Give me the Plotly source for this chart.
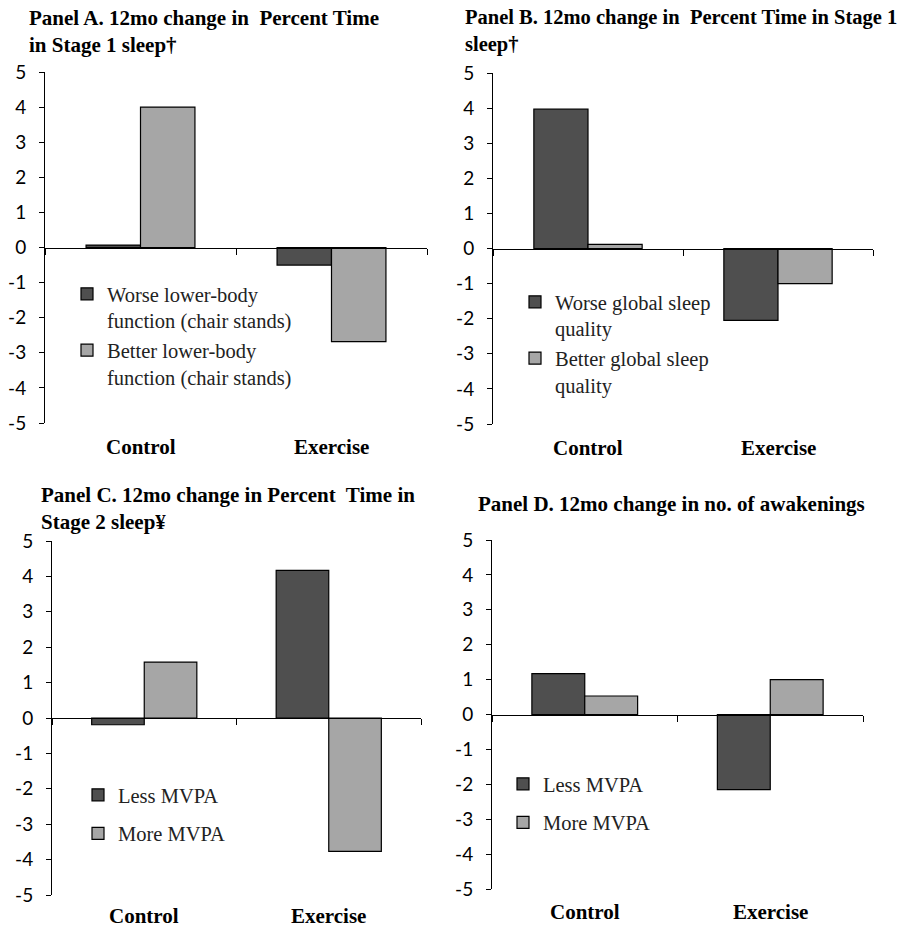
import plotly.graph_objects as go

W, H = 905, 928

categories = ["Control", "Exercise"]

# Panel A
a_title = "Panel A. 12mo change in  Percent Time<br>in Stage 1 sleep\u2020"
a_names = ["Worse lower-body<br>function (chair stands)", "Better lower-body<br>function (chair stands)"]
a_worse = [0.07, -0.50]
a_better = [4.00, -2.68]

# Panel B
b_title = "Panel B. 12mo change in  Percent Time in Stage 1<br>sleep\u2020"
b_names = ["Worse global sleep<br>quality", "Better global sleep<br>quality"]
b_worse = [3.97, -2.05]
b_better = [0.12, -1.00]

# Panel C
c_title = "Panel C. 12mo change in Percent  Time in<br>Stage 2 sleep\u00a5"
c_names = ["Less MVPA", "More MVPA"]
c_less = [-0.19, 4.17]
c_more = [1.58, -3.77]

# Panel D
d_title = "Panel D. 12mo change in no. of awakenings"
d_names = ["Less MVPA", "More MVPA"]
d_less = [1.17, -2.15]
d_more = [0.53, 1.00]

y_ticks = [-5, -4, -3, -2, -1, 0, 1, 2, 3, 4, 5]
y_tick_labels = [str(v) for v in y_ticks]

DARK = "#4f4f4f"
LIGHT = "#a6a6a6"
SERIF = "Liberation Serif"
SANS = "Lato"


def px_x(p):
    return p / W


def px_y(p):
    return 1 - p / H


panels = [
    # (title, names, series1, series2, xdom px, ydom px (bottom,top), legend pos px, title pos px, title size, legend gap, label shift)
    (a_title, a_names, a_worse, a_better, (45, 427), (423, 72), (67, 274), (27, 4), 21, 0, -24),
    (b_title, b_names, b_worse, b_better, (493, 873), (424, 73), (515, 282), (463, 4), 20.5, 0, -24),
    (c_title, c_names, c_less, c_more, (52, 421), (895, 541), (78, 775), (39, 481), 21, 9, -21),
    (d_title, d_names, d_less, d_more, (492, 863), (889, 540), (503, 764), (476, 490), 21, 9, -23),
]

fig = go.Figure()
annotations = []
layout = {}

for i, (title, names, s1, s2, xd, yd, lg, tp, tsize, gap, lshift) in enumerate(panels):
    n = i + 1
    xa = "x" if n == 1 else f"x{n}"
    ya = "y" if n == 1 else f"y{n}"
    lgname = "legend" if n == 1 else f"legend{n}"
    for k, (name, vals, col) in enumerate([(names[0], s1, DARK), (names[1], s2, LIGHT)]):
        fig.add_trace(go.Bar(
            x=categories, y=vals, name=name,
            marker=dict(color=col, line=dict(color="black", width=1.2)),
            xaxis=xa, yaxis=ya, legend=lgname,
            legendgroup=f"g{n}_{k}", offsetgroup=str(k),
        ))
    ydom = [px_y(yd[0]), px_y(yd[1])]
    xdom = [px_x(xd[0]), px_x(xd[1])]
    zero_pos = ydom[0] + (0 - (-5)) / 10 * (ydom[1] - ydom[0])
    xkey = "xaxis" if n == 1 else f"xaxis{n}"
    ykey = "yaxis" if n == 1 else f"yaxis{n}"
    layout[xkey] = dict(
        domain=xdom, anchor="free", position=zero_pos,
        showline=True, linecolor="black", linewidth=1,
        ticks="outside", tickson="boundaries", ticklen=6, tickcolor="black",
        showticklabels=False, showgrid=False, zeroline=False,
        range=[-0.5, 1.5], fixedrange=True, automargin=False,
    )
    layout[ykey] = dict(
        domain=ydom, anchor=xa, range=[-5, 5],
        tickvals=y_ticks, ticktext=y_tick_labels,
        showline=True, linecolor="black", linewidth=1,
        ticks="outside", ticklen=5, tickcolor="black",
        showgrid=False, zeroline=False, ticklabelstandoff=9,
        tickfont=dict(family=SANS, size=19, color="black"),
        automargin=False,
    )
    layout[lgname] = dict(
        x=px_x(lg[0]), y=px_y(lg[1]), xanchor="left", yanchor="top",
        bgcolor="rgba(0,0,0,0)", valign="top", tracegroupgap=gap,
        font=dict(family=SERIF, size=20.5, color="#222"),
        itemclick=False, itemdoubleclick=False,
    )
    annotations.append(dict(
        text=f"<b>{title}</b>", xref="paper", yref="paper",
        x=px_x(tp[0]), y=px_y(tp[1]), xanchor="left", yanchor="top",
        align="left", showarrow=False,
        font=dict(family=SERIF, size=tsize, color="black"),
    ))
    for c in categories:
        annotations.append(dict(
            text=f"<b>{c}</b>", xref=xa, yref=ya, x=c, y=-5, yshift=lshift,
            xanchor="center", yanchor="middle", showarrow=False,
            font=dict(family=SERIF, size=21, color="black"),
        ))

fig.update_layout(
    **layout,
    template="none",
    width=W, height=H,
    margin=dict(l=0, r=0, t=0, b=0, autoexpand=False),
    paper_bgcolor="white", plot_bgcolor="white",
    barmode="group", bargap=0.43, bargroupgap=0,
    annotations=annotations,
    showlegend=True,
)

fig.write_html(
    "out.html",
    config={"displayModeBar": False},
    post_script="document.body.style.margin='0px';document.body.style.overflow='hidden';",
)
